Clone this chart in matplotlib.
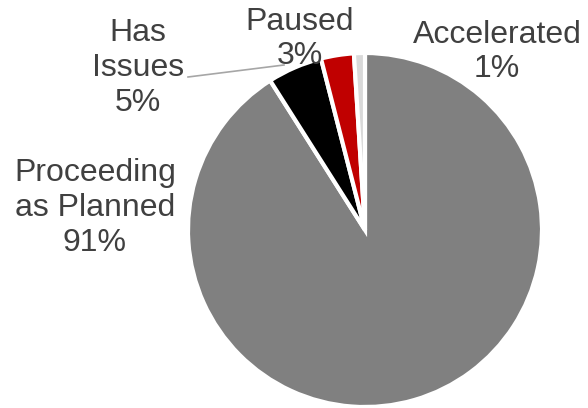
import matplotlib
matplotlib.use("Agg")
import matplotlib.pyplot as plt

labels = ["Proceeding\nas Planned", "Has\nIssues", "Paused", "Accelerated"]
values = [91, 5, 3, 1]
colors = ["#808080", "#000000", "#C00000", "#D9D9D9"]

# label centres in pixel coords (y from top)
label_pos = [(95, 208), (138, 68), (300, 39), (497, 52)]

H = 408
fig = plt.figure(figsize=(5.88, 4.08), dpi=100)
ax = fig.add_axes([0, 0, 1, 1])

ax.pie(values, colors=colors, startangle=90, counterclock=False,
       center=(365, H - 230), radius=177,
       wedgeprops=dict(edgecolor="white", linewidth=3))
ax.set_xlim(0, 588)
ax.set_ylim(0, H)
ax.set_aspect("equal")
ax.axis("off")

for lab, v, (x, y) in zip(labels, values, label_pos):
    ax.text(x, H - y, f"{lab}\n{v}%", ha="center", va="center",
            fontsize=23, color="#404040", family="Liberation Sans",
            linespacing=1.2)

# leader line for "Has Issues"
ax.plot([188, 284], [H - 77, H - 65], color="#A6A6A6", lw=1.2)

fig.savefig("out.png", dpi=100)
